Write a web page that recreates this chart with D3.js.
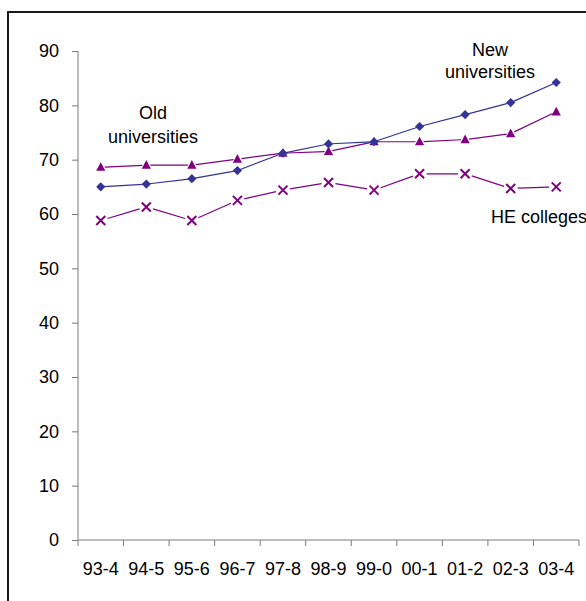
<!DOCTYPE html>
<html>
<head>
<meta charset="utf-8">
<script src="https://cdn.jsdelivr.net/npm/d3@7"></script>
<style>
  html, body { margin: 0; padding: 0; background: #fff; }
  svg { display: block; }
  text { font-family: "Liberation Sans", Arial, sans-serif; fill: #000; }
</style>
</head>
<body>
<svg id="chart" width="586" height="601"></svg>
<script>
const categories = ["93-4","94-5","95-6","96-7","97-8","98-9","99-0","00-1","01-2","02-3","03-4"];
const oldUniversities = [68.6, 69.0, 69.0, 70.1, 71.2, 71.5, 73.3, 73.3, 73.7, 74.8, 78.8];
const newUniversities = [65.0, 65.5, 66.5, 68.0, 71.2, 72.9, 73.3, 76.1, 78.3, 80.5, 84.2];
const heColleges     = [58.8, 61.3, 58.8, 62.5, 64.4, 65.8, 64.4, 67.4, 67.4, 64.7, 65.0];
const yTicks = [0, 10, 20, 30, 40, 50, 60, 70, 80, 90];

const FS = 18;
const svg = d3.select("#chart");
const margin = { left: 78, right: 579, top: 51, bottom: 540 };

// outer border
svg.append("rect").attr("x", 8).attr("y", 12).attr("width", 600).attr("height", 620)
  .attr("fill", "none").attr("stroke", "#000").attr("stroke-width", 1.8);

const x = d3.scaleBand().domain(categories).range([margin.left, margin.right]);
const y = d3.scaleLinear().domain([0, 90]).range([margin.bottom, margin.top]);
const cx = c => x(c) + x.bandwidth() / 2;

const axisColor = "#7a7a7a";

// y axis
const yAxis = svg.append("g").attr("transform", `translate(${margin.left},0)`)
  .call(d3.axisLeft(y).tickValues(yTicks).tickSize(6).tickPadding(13).tickFormat(d3.format("d")));
yAxis.select(".domain").attr("stroke", axisColor).attr("d", `M0,${margin.top}V${margin.bottom}`);
yAxis.selectAll(".tick line").attr("stroke", axisColor);
yAxis.selectAll(".tick text").attr("font-size", FS).attr("font-family", "Liberation Sans, Arial, sans-serif").attr("fill", "#000");

// x axis
const xAxis = svg.append("g").attr("transform", `translate(0,${margin.bottom})`)
  .call(d3.axisBottom(x).tickSize(0).tickPadding(22));
xAxis.select(".domain").attr("stroke", axisColor).attr("d", `M${margin.left},0H${margin.right}`);
xAxis.selectAll(".tick text").attr("font-size", FS).attr("font-family", "Liberation Sans, Arial, sans-serif").attr("fill", "#000");
// tick marks at band boundaries
const bounds = categories.map(c => x(c)).concat([x(categories[categories.length - 1]) + x.bandwidth()]);
xAxis.selectAll(".bnd").data(bounds).enter().append("line")
  .attr("x1", d => d).attr("x2", d => d).attr("y1", 0).attr("y2", 6)
  .attr("stroke", axisColor);

function drawSeries(values, color, gap) {
  const pts = values.map((v, i) => [cx(categories[i]), y(v)]);
  const g = svg.append("g");
  for (let i = 0; i < pts.length - 1; i++) {
    const [x1, y1] = pts[i], [x2, y2] = pts[i + 1];
    const dx = x2 - x1, dy = y2 - y1, len = Math.hypot(dx, dy);
    const ux = dx / len, uy = dy / len;
    g.append("line")
      .attr("x1", x1 + ux * gap).attr("y1", y1 + uy * gap)
      .attr("x2", x2 - ux * gap).attr("y2", y2 - uy * gap)
      .attr("stroke", color).attr("stroke-width", 1.2);
  }
  return pts;
}

// Old universities: triangles
const oldPts = drawSeries(oldUniversities, "#800080", 4);
svg.append("g").selectAll("path").data(oldPts).enter().append("path")
  .attr("d", "M0,-5L4.6,3.6L-4.6,3.6Z")
  .attr("transform", d => `translate(${d[0]},${d[1]})`)
  .attr("fill", "#800080");

// New universities: diamonds
const newPts = drawSeries(newUniversities, "#333399", 3);
svg.append("g").selectAll("path").data(newPts).enter().append("path")
  .attr("d", "M0,-4.6L4.6,0L0,4.6L-4.6,0Z")
  .attr("transform", d => `translate(${d[0]},${d[1]})`)
  .attr("fill", "#333399");

// HE colleges: crosses
const hePts = drawSeries(heColleges, "#800080", 7);
svg.append("g").selectAll("path").data(hePts).enter().append("path")
  .attr("d", "M-4.5,-4.5L4.5,4.5M-4.5,4.5L4.5,-4.5")
  .attr("transform", d => `translate(${d[0]},${d[1]})`)
  .attr("stroke", "#800080").attr("stroke-width", 2).attr("fill", "none");

// annotations
function label(lines, xc, ys, anchor) {
  lines.forEach((t, i) => {
    svg.append("text").attr("x", xc).attr("y", ys[i]).attr("text-anchor", anchor)
      .attr("font-size", FS).text(t);
  });
}
label(["Old", "universities"], 153, [119, 143], "middle");
label(["New", "universities"], 490, [56, 78], "middle");
label(["HE colleges"], 491, [223], "start");
</script>
</body>
</html>
